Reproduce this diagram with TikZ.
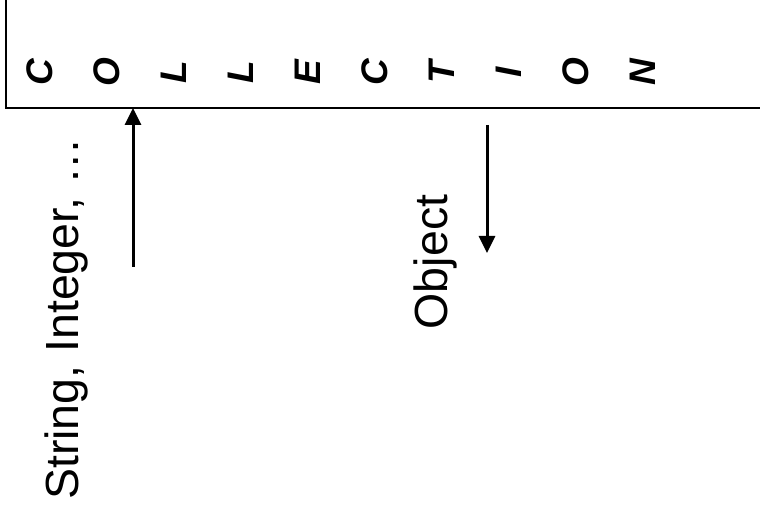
\documentclass[tikz,border=0pt]{standalone}
\usepackage{fontspec}
\setmainfont{Liberation Sans}
\usetikzlibrary{arrows.meta}
\tikzset{
  frame/.style={draw, line width=2pt, rectangle, inner sep=0pt, outer sep=0pt},
  letter/.style={rotate=90, anchor=base, inner sep=0pt,
    font=\fontsize{37}{40}\selectfont\bfseries\itshape},
  label/.style={rotate=90, anchor=base, inner sep=0pt,
    font=\fontsize{46.5}{50}\selectfont},
  flow/.style={line width=3pt, -{Triangle[length=17pt, width=16pt]}},
}
\begin{document}
\begin{tikzpicture}[x=1pt, y=-1pt]
  \useasboundingbox (0,0) rectangle (760,529);
  \clip (0,0) rectangle (760,529);
  % the collection box, running off the top and right edges
  \node[frame, minimum width=794pt, minimum height=138pt] (box) at (403,39) {};
  % the word COLLECTION, one turned letter at a time
  \foreach \ch [count=\i from 0] in {C,O,L,L,E,C,T,I,O,N} {
    \node[letter] (l\i) at ({52+67*\i},72) {\ch};
  }
  % what goes in
  \coordinate (inStart) at (133,267);
  \draw[flow] (inStart) -- (inStart |- box.south);
  \node[label] (inText) at (78,319) {String, Integer, …};
  % what comes out
  \coordinate (outStart) at (487,125);
  \coordinate (outEnd) at (487,253);
  \draw[flow] (outStart) -- (outEnd);
  \node[label] (outText) at (447,262) {Object};
\end{tikzpicture}
\end{document}
